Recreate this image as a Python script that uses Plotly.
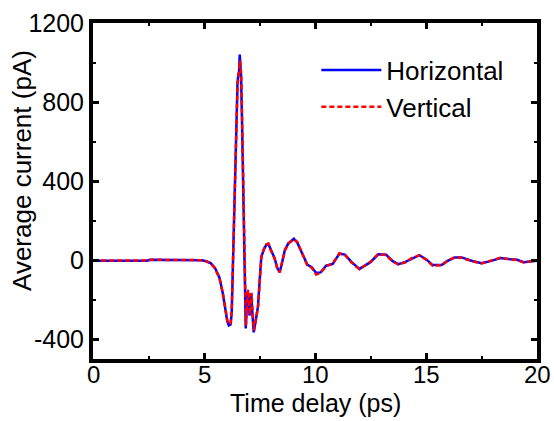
import plotly.graph_objects as go

# Time axis (ps) and averaged photocurrent (pA) for the two polarisations
t_h = [0.0, 1.0, 2.4, 2.6, 4.6, 4.9, 5.1, 5.3, 5.5, 5.7, 5.85, 5.95, 6.05, 6.12, 6.2,
       6.25, 6.28, 6.32, 6.36, 6.4, 6.43, 6.47, 6.51, 6.55, 6.58, 6.61, 6.64, 6.67,
       6.71, 6.75, 6.79, 6.83, 6.86, 6.88, 6.92, 6.97, 7.01, 7.05, 7.09, 7.13, 7.18,
       7.24, 7.28, 7.35, 7.43, 7.51, 7.58, 7.7, 7.81, 7.9, 8.0, 8.18, 8.3, 8.41, 8.5,
       8.64, 8.8, 9.05, 9.2, 9.35, 9.5, 9.65, 9.85, 10.05, 10.25, 10.5, 10.8, 11.1,
       11.35, 11.65, 12.0, 12.25, 12.5, 12.85, 13.2, 13.5, 13.75, 14.05, 14.35, 14.7,
       15.0, 15.3, 15.7, 15.95, 16.3, 16.6, 17.05, 17.5, 17.9, 18.35, 18.8, 19.1, 19.4,
       19.7, 20.0]
i_h = [-3, -3, -3, 2, 2, 0, -5, -15, -40, -90, -170, -230, -310, -330, -325,
       -260, -130, 60, 250, 380, 570, 700, 900, 940, 950, 1040, 1000, 930,
       720, 450, 150, -100, -300, -345, -250, -160, -180, -280, -230, -170, -270,
       -365, -340, -280, -235, -100, 16, 55, 78, 82, 55, 10, -40, -60, -20,
       50, 85, 108, 90, 50, 10, -22, -35, -65, -62, -28, -19, 33,
       28, -10, -44, -28, -10, 30, 28, -5, -20, -10, 8, 25,
       5, -25, -25, -5, 14, 14, -3, -15, -5, 11, 5, 2, -10,
       -6, -3]

t_v = [0.0, 1.0, 2.4, 2.6, 4.6, 4.9, 5.1, 5.3, 5.5, 5.7, 5.85, 5.95, 6.05, 6.12, 6.2,
       6.25, 6.28, 6.32, 6.36, 6.4, 6.43, 6.47, 6.51, 6.55, 6.58, 6.62, 6.65, 6.68,
       6.72, 6.76, 6.8, 6.84, 6.87, 6.89, 6.93, 6.98, 7.02, 7.06, 7.1, 7.14, 7.19,
       7.25, 7.29, 7.36, 7.44, 7.52, 7.59, 7.7, 7.81, 7.9, 8.0, 8.18, 8.3, 8.41, 8.5,
       8.64, 8.8, 9.05, 9.2, 9.35, 9.5, 9.65, 9.85, 10.05, 10.25, 10.5, 10.8, 11.1,
       11.35, 11.65, 12.0, 12.25, 12.5, 12.85, 13.2, 13.5, 13.75, 14.05, 14.35, 14.7,
       15.0, 15.3, 15.7, 15.95, 16.3, 16.6, 17.05, 17.5, 17.9, 18.35, 18.8, 19.1, 19.4,
       19.7, 20.0]
i_v = [-2, -2, -2, 2, 2, 0, -6, -16, -42, -92, -168, -232, -305, -325, -320,
       -255, -125, 55, 240, 370, 560, 710, 880, 930, 960, 1010, 990, 920,
       700, 440, 140, -110, -295, -330, -240, -150, -175, -275, -225, -165, -265,
       -355, -335, -275, -230, -95, 20, 58, 80, 84, 52, 8, -42, -62, -22,
       48, 84, 106, 92, 52, 8, -25, -38, -72, -65, -30, -17, 35,
       26, -12, -46, -26, -8, 32, 26, -7, -22, -12, 10, 24,
       3, -28, -26, -4, 15, 12, -5, -16, -4, 12, 4, 1, -12,
       -5, 0]

# Tick positions and their printed labels (plain hyphen minus)
x_ticks = [0, 5, 10, 15, 20]
x_labels = ["0", "5", "10", "15", "20"]
y_ticks = [-400, 0, 400, 800, 1200]
y_labels = ["-400", "0", "400", "800", "1200"]

FONT = "Arial, 'Liberation Sans', sans-serif"

fig = go.Figure()
fig.add_trace(go.Scatter(x=t_h, y=i_h, mode="lines", name="Horizontal",
                         line=dict(color="#0000ff", width=2.5)))
fig.add_trace(go.Scatter(x=t_v, y=i_v, mode="lines", name="Vertical",
                         line=dict(color="#ff0000", width=2.5, dash="5px,3px")))

axis_common = dict(
    showgrid=False, zeroline=False, automargin=False,
    showline=True, linecolor="black", linewidth=4, mirror="ticks",
    ticks="inside", ticklen=6, tickwidth=2.5, tickcolor="black",
    tickfont=dict(family=FONT, size=25, color="black"),
)

fig.update_xaxes(
    range=[0, 20], tickmode="array", tickvals=x_ticks, ticktext=x_labels,
    showticklabels=False,
    minor=dict(ticks="inside", dtick=2.5, tick0=0, ticklen=3, tickwidth=2, tickcolor="black"),
    **axis_common,
)
fig.update_yaxes(
    range=[-500, 1200], tickmode="array", tickvals=y_ticks, ticktext=y_labels,
    minor=dict(ticks="inside", dtick=200, tick0=0, ticklen=3, tickwidth=2, tickcolor="black"),
    **axis_common,
)

# x tick labels, set close under the frame
for xv, lab in zip(x_ticks, x_labels):
    fig.add_annotation(text=lab, xref="x", yref="paper", x=xv, y=0,
                       xanchor="center", yanchor="middle", yshift=-15,
                       showarrow=False, font=dict(family=FONT, size=24, color="black"))

# Axis titles
fig.add_annotation(text="Time delay (ps)", xref="paper", yref="paper",
                   x=0.5, y=-0.131, xanchor="center", yanchor="middle",
                   showarrow=False, font=dict(family=FONT, size=25, color="black"))
fig.add_annotation(text="Average current (pA)", xref="paper", yref="paper",
                   x=-0.16, y=0.5625, xanchor="center", yanchor="middle", textangle=-90,
                   showarrow=False, font=dict(family=FONT, size=26, color="black"))

fig.update_layout(
    width=554, height=421,
    margin=dict(l=93, r=17, t=23, b=62, pad=0),
    paper_bgcolor="white", plot_bgcolor="white",
    font=dict(family=FONT, size=24, color="black"),
    showlegend=True,
    legend=dict(x=0.503, y=0.93, xanchor="left", yanchor="top",
                bgcolor="rgba(0,0,0,0)", borderwidth=0,
                font=dict(family=FONT, size=26, color="black"),
                itemwidth=60, tracegroupgap=0),
)

fig.write_html("out.html")
